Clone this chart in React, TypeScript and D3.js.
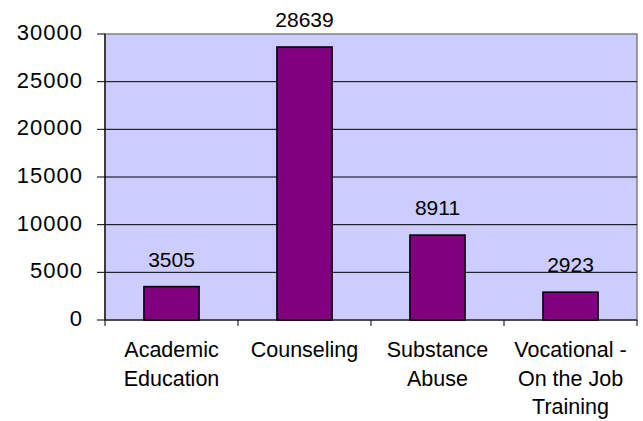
import React from "react";
import * as d3 from "d3";

const categories: string[][] = [
  ["Academic", "Education"],
  ["Counseling"],
  ["Substance", "Abuse"],
  ["Vocational -", "On the Job", "Training"],
];
const values: number[] = [3505, 28639, 8911, 2923];
const yTicks: number[] = [0, 5000, 10000, 15000, 20000, 25000, 30000];

export default function App() {
  const W = 643, H = 421;
  const left = 105, right = 637, top = 34, bottom = 320;
  const font = "Liberation Sans, Arial, sans-serif";
  const x = d3.scaleBand<number>().domain(d3.range(categories.length)).range([left, right]).paddingInner(0).paddingOuter(0);
  const y = d3.scaleLinear().domain([0, 30000]).range([bottom, top]);
  const bw = x.bandwidth() * 0.415;
  return (
    <svg width={W} height={H} style={{ position: "absolute", left: 0, top: 0, background: "#fff" }}>
      <rect x={left} y={top} width={right - left} height={bottom - top} fill="#CCCCFF" stroke="#808080" strokeWidth={1.5} />
      {yTicks.filter(t => t > 0 && t < 30000).map(t => (
        <line key={t} x1={left} x2={right} y1={y(t)} y2={y(t)} stroke="#000" strokeWidth={1} />
      ))}
      {values.map((v, i) => {
        const cx = x(i)! + x.bandwidth() / 2;
        return (
          <g key={i}>
            <rect x={cx - bw / 2} y={y(v)} width={bw} height={bottom - y(v)} fill="#800080" stroke="#000" strokeWidth={1.5} />
            <text x={cx} y={y(v) - 20} textAnchor="middle" fontFamily={font} fontSize={21} fill="#000">{v}</text>
          </g>
        );
      })}
      <line x1={left} x2={left} y1={top} y2={bottom} stroke="#000" strokeWidth={1.2} />
      <line x1={left} x2={right} y1={bottom} y2={bottom} stroke="#000" strokeWidth={1.2} />
      {yTicks.map(t => (
        <g key={t}>
          <line x1={left - 8} x2={left} y1={y(t)} y2={y(t)} stroke="#000" strokeWidth={1} />
          <text x={83} y={y(t) + 6} textAnchor="end" fontFamily={font} fontSize={22} letterSpacing={1} fill="#000">{t}</text>
        </g>
      ))}
      {d3.range(categories.length + 1).map(i => {
        const xx = left + i * x.bandwidth();
        return <line key={i} x1={xx} x2={xx} y1={bottom} y2={bottom + 6} stroke="#000" strokeWidth={1} />;
      })}
      {categories.map((lines, i) => {
        const cx = x(i)! + x.bandwidth() / 2;
        return (
          <text key={i} textAnchor="middle" fontFamily={font} fontSize={21.5} fill="#000">
            {lines.map((l, j) => (
              <tspan key={j} x={cx} y={357 + j * 28.5}>{l}</tspan>
            ))}
          </text>
        );
      })}
    </svg>
  );
}
